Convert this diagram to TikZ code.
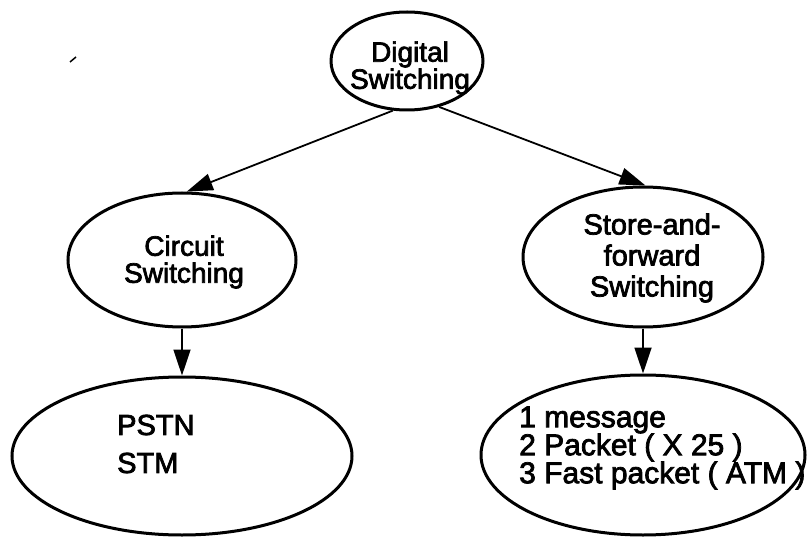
\documentclass[tikz,border=0pt]{standalone}
\usepackage{fontspec}
\setmainfont{Liberation Sans}[FakeBold=2.5]
\usetikzlibrary{shapes.geometric,arrows.meta}

\begin{document}
\begin{tikzpicture}[x=1pt,y=-1pt,
  bubble/.style={ellipse,draw,line width=3pt,inner sep=0pt},
  label/.style={inner sep=0pt,align=center,font=\fontsize{28}{22}\selectfont},
  listtext/.style={anchor=west,inner sep=0pt,align=left,
    font=\fontsize{30}{28}\selectfont},
  link/.style={line width=1.8pt,-{Triangle[length=26pt,width=17pt]}}]
  \useasboundingbox (0,0) rectangle (808,537);

  % tree of switching methods
  \node[bubble,minimum width=152pt,minimum height=98pt] (digital) at (407,61) {};
  \node[label] (digitaltext) at (410,68) {Digital\\Switching};
  \node[bubble,minimum width=228pt,minimum height=134pt] (circuit) at (182,260) {};
  \node[label,font=\fontsize{28}{27}\selectfont] (circuittext) at (184,262)
    {Circuit\\Switching};
  \node[bubble,minimum width=240pt,minimum height=140pt] (store) at (643,257) {};
  \node[label,font=\fontsize{29}{31}\selectfont] (storetext) at (652,258)
    {Store-and-\\forward\\Switching};

  % leaf ellipses with their examples
  \node[bubble,minimum width=340pt,minimum height=158pt] (pstn) at (182,456) {};
  \node[listtext,font=\fontsize{29}{38}\selectfont] (pstntext) at (117,444)
    {PSTN\\STM};
  \node[bubble,minimum width=324pt,minimum height=160pt] (kinds) at (643,455) {};
  \node[listtext] (kindstext) at (519,448)
    {1 message\\2 Packet ( X 25 )\\3 Fast packet ( ATM )};

  % connectors
  \draw[link] (digital.254) -- (circuit.86);
  \draw[link] (digital.305) -- (store.88);
  \draw[link] (circuit.south) -- (pstn.north);
  \draw[link] (store.south) -- (kinds.north);

  % small stray stroke near the top left
  \coordinate (speckA) at (70,62);
  \coordinate (speckB) at (76,57);
  \draw[line width=1.5pt] (speckA) -- (speckB);
\end{tikzpicture}
\end{document}
